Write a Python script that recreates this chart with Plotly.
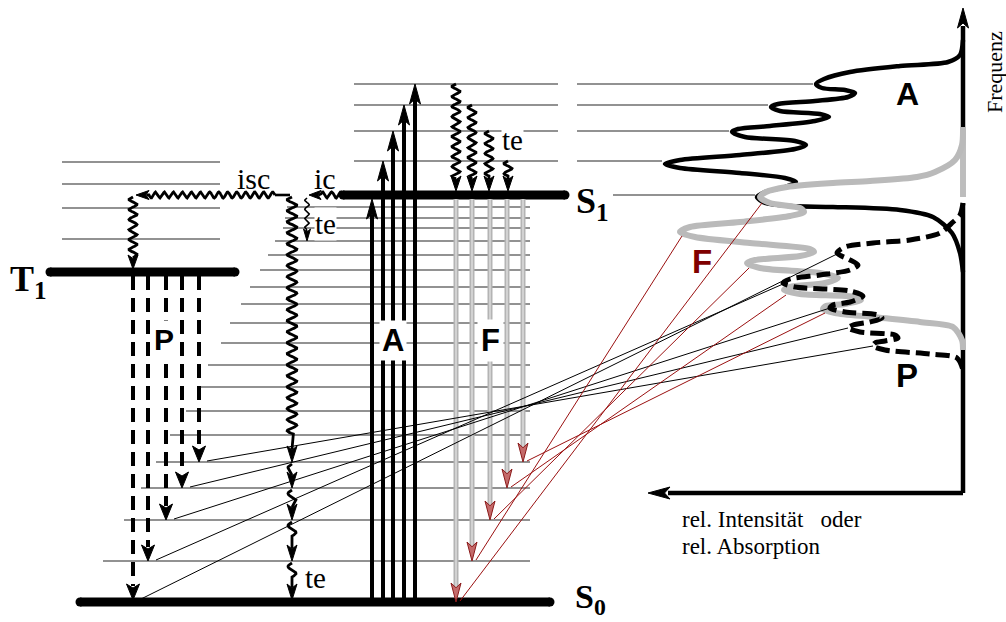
import numpy as np
import plotly.graph_objects as go

W, H = 1006, 622

# ---- electronic states: v=0 level (y) and bar extent --------------------------
S0_Y, S1_Y, T1_Y = 602, 195, 272
S0_BAR = (80, 550)
S1_BAR = (343, 565)
T1_BAR = (50, 235)

# ---- vibrational levels ---------------------------------------------------
S0_VIB_Y = [207, 218, 228, 241, 255, 270, 287, 304, 323, 343, 365, 387, 411, 435, 462, 488, 520, 561]
S0_VIB_X0 = [287, 285, 283, 275, 268, 260, 250, 241, 230, 221, 208, 197, 186, 170, 156, 141, 124, 103]
S0_VIB_X1 = 530
S1_VIB_Y = [84, 105, 131, 161]
S1_VIB_X = (354, 558)
T1_VIB_Y = [162, 184, 208, 239]
T1_VIB_X = (62, 220)

# ---- radiative transitions --------------------------------------------------
ABS_X = [372, 383, 393, 404, 415]          # absorption S0 -> S1(v)
ABS_TO = [S1_Y, 161, 131, 105, 84]
FL_X = [456, 472, 490, 507, 523]           # fluorescence S1 -> S0(v)
FL_TO = [602, 561, 520, 488, 462]
PH_X = [133, 148, 166, 182, 199]           # phosphorescence T1 -> S0(v)
PH_TO = [600, 561, 520, 488, 462]

# vibrational relaxation in S1 (te)
TE_S1_X = [456, 472, 489, 508]
TE_S1_FROM = [84, 105, 131, 161]
# relaxation chain in S0 after ic
TE_S0_X = 292
TE_S0_STOPS = [462, 488, 520, 561, 600]

# ---- spectra (intensity to the left, frequency upward) -------------------------
A_INT = [963, 960, 948, 900, 850, 824, 816, 822, 845, 855, 848, 815, 778, 771, 780, 820, 829, 815, 770,
         738, 732, 745, 795, 806, 795, 740, 680, 665, 680, 740, 785, 796, 785, 765, 757, 765, 790, 833,
         900, 933, 952, 960, 963]
A_FREQ = [40, 55, 62, 66, 72, 79, 84, 88, 90, 93, 97, 101, 104, 107, 111, 114, 117, 121, 126,
          129, 132, 137, 141, 145, 149, 155, 160, 164, 168, 173, 178, 182, 187, 192, 197, 203, 206, 207,
          210, 217, 233, 253, 272]
F_INT = [963, 962, 955, 935, 917, 870, 833, 787, 766, 760, 770, 800, 804, 790, 740, 690, 680, 695,
         750, 810, 814, 800, 755, 747, 760, 820, 838, 825, 790, 784, 800, 855, 861, 845, 826, 823, 835,
         873, 920, 953, 962, 963]
F_FREQ = [127, 145, 160, 172, 177, 181, 183, 187, 192, 197, 203, 208, 212, 216, 222, 227, 232, 237,
          243, 249, 252, 256, 260, 263, 268, 273, 278, 283, 287, 290, 294, 297, 300, 304, 306, 309, 313,
          317, 322, 327, 340, 350]
P_INT = [963, 960, 953, 940, 910, 873, 845, 837, 848, 858, 850, 820, 790, 783, 795, 850, 863, 850,
         833, 830, 845, 878, 882, 870, 853, 848, 860, 895, 898, 885, 875, 873, 885, 930, 957, 963]
P_FREQ = [203, 215, 222, 233, 240, 243, 247, 253, 259, 265, 270, 275, 279, 283, 287, 291, 296, 302,
          305, 308, 312, 315, 318, 322, 325, 328, 332, 335, 338, 341, 343, 346, 350, 354, 358, 370]

# band maxima linked to the transitions above (same order as the arrays)
A_PEAKS = [(757, 197), (665, 164), (732, 132), (771, 107), (816, 84)]
F_PEAKS = [(760, 199), (680, 232), (747, 264), (784, 291), (823, 309)]
P_PEAKS = [(837, 254), (783, 284), (830, 308), (848, 328), (873, 346)]

AXIS_X, AXIS_Y = 963, 493

SERIF = "Liberation Serif"
SANS = "Liberation Sans"
LEVEL_LINE = "#262626"

traces = []


def seg_trace(xs, ys, color, width, dash=None):
    traces.append(go.Scatter(x=xs, y=ys, mode="lines",
                             line=dict(color=color, width=width, dash=dash),
                             hoverinfo="skip"))


def head(tx, ty, dx, dy, length, half, fill, edge=None):
    n = np.hypot(dx, dy)
    ux, uy = dx / n, dy / n
    px, py = -uy, ux
    bx, by = tx - ux * length, ty - uy * length
    nx, ny = tx - ux * length * 0.75, ty - uy * length * 0.75
    xs = [tx, bx + px * half, nx, bx - px * half, tx]
    ys = [ty, by + py * half, ny, by - py * half, ty]
    traces.append(go.Scatter(x=xs, y=ys, mode="lines", fill="toself", fillcolor=fill,
                             line=dict(color=edge or fill, width=1), hoverinfo="skip"))


def wave(x0, y0, x1, y1, amp, wl):
    L = np.hypot(x1 - x0, y1 - y0)
    ux, uy = (x1 - x0) / L, (y1 - y0) / L
    t = np.linspace(0, L, max(int(L / wl * 14), 8))
    off = amp * np.sin(2 * np.pi * t / wl)
    return list(x0 + ux * t - uy * off), list(y0 + uy * t + ux * off)


def wavy_arrow(x0, y0, x1, y1, amp=3.5, wl=9, hl=12, hw=4.5, width=2.8, straight=0):
    # wavy shaft, optional straight run, arrowhead at (x1, y1)
    L = np.hypot(x1 - x0, y1 - y0)
    ux, uy = (x1 - x0) / L, (y1 - y0) / L
    wend = L - hl - straight
    xs, ys = wave(x0, y0, x0 + ux * wend, y0 + uy * wend, amp, wl)
    xs += [x1 - ux * hl * 0.8]
    ys += [y1 - uy * hl * 0.8]
    seg_trace(xs, ys, "black", width)
    head(x1, y1, ux, uy, hl, hw, "black")


# ---- vibrational levels ------------------------------------------------------
lx, ly = [], []
for y, x0 in zip(S0_VIB_Y, S0_VIB_X0):
    lx += [x0, S0_VIB_X1, None]
    ly += [y, y, None]
for y in S1_VIB_Y:
    lx += [S1_VIB_X[0], S1_VIB_X[1], None]
    ly += [y, y, None]
for y in T1_VIB_Y:
    lx += [T1_VIB_X[0], T1_VIB_X[1], None]
    ly += [y, y, None]
# guide lines from S1 levels to the absorption maxima
for (px, py), y in zip(A_PEAKS[1:], [161, 131, 105, 84]):
    lx += [577, px - 3, None]
    ly += [y, y, None]
lx += [613, A_PEAKS[0][0] - 2, None]
ly += [S1_Y, S1_Y, None]
seg_trace(lx, ly, LEVEL_LINE, 1.1)

# ---- state bars ----------------------------------------------------------------
for (xa, xb), y in [(S0_BAR, S0_Y), (S1_BAR, S1_Y), (T1_BAR, T1_Y)]:
    traces.append(go.Scatter(x=[xa, xb], y=[y, y], mode="lines+markers",
                             line=dict(color="black", width=9),
                             marker=dict(color="black", size=9), hoverinfo="skip"))

# ---- absorption -------------------------------------------------------------------
for x, yt in zip(ABS_X, ABS_TO):
    tip = yt + (4 if yt == S1_Y else 0)
    seg_trace([x, x], [S0_Y - 3, tip + 16], "black", 4)
    head(x, tip, 0, -1, 20, 5.5, "black")

# ---- fluorescence -----------------------------------------------------------------
for x, yt in zip(FL_X, FL_TO):
    seg_trace([x, x], [S1_Y + 4, yt - 14], "#b4b4b4", 5)
    seg_trace([x, x], [S1_Y + 4, yt - 14], "#dadada", 1.6)
    head(x, yt, 0, 1, 19, 5, "#c46a6a", "#8b1a1a")

# ---- phosphorescence ---------------------------------------------------------------
for x, yt in zip(PH_X, PH_TO):
    seg_trace([x, x], [T1_Y + 4, yt - 14], "black", 4, dash="14px,8px")
    head(x, yt, 0, 1, 16, 6.5, "black")

# ---- radiationless processes ------------------------------------------------------------
# intersystem crossing
seg_trace([290, 275], [S1_Y, S1_Y], "black", 2.6)
wavy_arrow(275, S1_Y, 136, S1_Y, amp=3.0, wl=9, hl=13, hw=4.5)
wavy_arrow(133, S1_Y + 2, 133, T1_Y - 3, amp=4.0, wl=10, hl=14, hw=5)
# internal conversion
wavy_arrow(S1_BAR[0], S1_Y, 309, S1_Y, amp=3.0, wl=9, hl=12, hw=4.5)
wavy_arrow(307, S1_Y + 3, 307, 241, amp=2.2, wl=9, hl=12, hw=3.5, width=1.6)
# vibrational relaxation inside S1
for x, y0 in zip(TE_S1_X, TE_S1_FROM):
    wavy_arrow(x, y0, x, S1_Y - 4, amp=4.0, wl=10, hl=15, hw=5)
# relaxation chain down the S0 manifold
prev = S1_Y + 2
for i, stop in enumerate(TE_S0_STOPS):
    if i == 0:
        wavy_arrow(TE_S0_X, prev, TE_S0_X, stop, amp=4.8, wl=11, hl=16, hw=5, straight=12)
    else:
        wavy_arrow(TE_S0_X, prev, TE_S0_X, stop, amp=4.0, wl=14, hl=16, hw=5,
                   straight=max(stop - prev - 30, 4))
    prev = stop + 2

# ---- spectra -----------------------------------------------------------------------------
# frequency axis (with the overlapping grey/white patch of the emission band)
seg_trace([AXIS_X, AXIS_X], [AXIS_Y, 26], "black", 4.5)
head(AXIS_X, 8, 0, -1, 20, 5.5, "black")
seg_trace([AXIS_X, 668], [AXIS_Y, AXIS_Y], "black", 4.5)
head(648, AXIS_Y, -1, 0, 22, 6, "black")
seg_trace([AXIS_X, AXIS_X], [127, 197], "#bdbdbd", 5)
seg_trace([AXIS_X, AXIS_X], [197, 203], "white", 6)

traces.append(go.Scatter(x=A_INT, y=A_FREQ, mode="lines",
                         line=dict(color="black", width=4.5, shape="spline", smoothing=0.8),
                         hoverinfo="skip"))
traces.append(go.Scatter(x=F_INT, y=F_FREQ, mode="lines",
                         line=dict(color="#bababa", width=6, shape="spline", smoothing=0.8),
                         hoverinfo="skip"))
traces.append(go.Scatter(x=P_INT, y=P_FREQ, mode="lines",
                         line=dict(color="black", width=5, shape="spline", smoothing=0.8,
                                   dash="14px,6px"),
                         hoverinfo="skip"))

# ---- correlation of transitions with band maxima ---------------------------------------------
cx, cy = [], []
for x, yt, (px, py) in zip(PH_X, PH_TO, P_PEAKS):
    cx += [x + 8, px, None]
    cy += [yt - 1, py, None]
seg_trace(cx, cy, "black", 1)
rx, ry = [], []
for x, yt, (px, py) in zip(FL_X, FL_TO, F_PEAKS):
    rx += [x + 4, px + 2, None]
    ry += [yt - 1, py + 4, None]
seg_trace(rx, ry, "#9a1010", 1)

# ---- labels ---------------------------------------------------------------------------------------
ann = []


def label(x, y, text, size, family=SERIF, color="black", bg=None, pad=1, angle=0):
    ann.append(dict(x=x, y=y, xref="x", yref="y", text=text, showarrow=False,
                    font=dict(family=family, size=size, color=color),
                    bgcolor=bg, borderpad=pad, textangle=angle,
                    xanchor="center", yanchor="middle"))


label(28, 281, "<b>T<sub>1</sub></b>", 36)
label(592, 203, "<b>S<sub>1</sub></b>", 36)
label(590, 599, "<b>S<sub>0</sub></b>", 34)
label(253, 178, "isc", 30)
label(325, 178, "ic", 30)
label(325, 224, "te", 29, bg="white", pad=0)
label(512, 140, "te", 29, bg="white", pad=0)
label(315, 578, "te", 29)
label(164, 339, "<b>P</b>", 30, family=SANS, bg="white", pad=2)
label(393, 340, "<b>A</b>", 31, family=SANS, bg="white", pad=2)
label(490, 340, "<b>F</b>", 31, family=SANS, bg="white", pad=3)
label(907, 94, "<b>A</b>", 32, family=SANS)
label(702, 261, "<b>F</b>", 33, family=SANS, color="#800000")
label(907, 375, "<b>P</b>", 33, family=SANS)
label(994, 72, "Frequenz", 22, angle=-90)
ann.append(dict(x=680, y=519, xref="x", yref="y", text="rel. Intensität   oder",
                showarrow=False, font=dict(family=SERIF, size=23, color="black"),
                xanchor="left", yanchor="middle"))
ann.append(dict(x=680, y=546, xref="x", yref="y", text="rel. Absorption",
                showarrow=False, font=dict(family=SERIF, size=23, color="black"),
                xanchor="left", yanchor="middle"))

fig = go.Figure(traces)
fig.update_layout(width=W, height=H, margin=dict(l=0, r=0, t=0, b=0),
                  paper_bgcolor="white", plot_bgcolor="white", showlegend=False,
                  annotations=ann)
fig.update_xaxes(range=[0, W], visible=False, fixedrange=True)
fig.update_yaxes(range=[H, 0], visible=False, fixedrange=True)
fig.write_html("out.html", config={"displayModeBar": False})
